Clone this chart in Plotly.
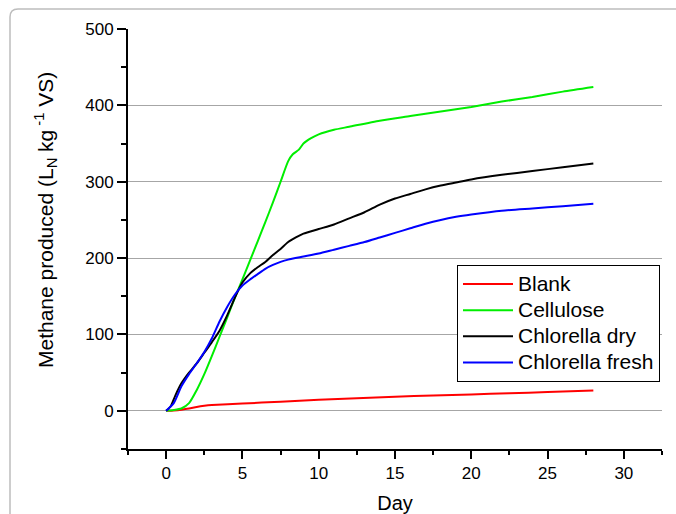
import plotly.graph_objects as go

# ---- data ----
blank_day = [0, 0.5, 1, 1.5, 2, 2.5, 3, 5, 7.5, 10, 12.5, 15, 17.5, 20, 22.5, 25, 28]
blank_val = [0, 0.5, 1.5, 3, 5, 6.5, 7.5, 9.5, 12, 14.5, 16.5, 18.5, 20, 21.5, 23, 24.5, 26.5]

cell_day = [0, 0.5, 1, 1.5, 2, 2.5, 3, 3.5, 4, 4.5, 5, 5.5, 6, 6.5, 7, 7.5, 8, 8.3, 8.7, 9,
            9.5, 10, 11, 12, 14, 16, 18, 20, 22, 24, 26, 28]
cell_val = [0, 1, 3, 10, 27, 48, 72, 97, 122, 148, 172, 197, 222, 247, 273, 300, 327, 336, 342, 350,
            357, 362, 368, 372, 380, 386, 392, 398, 405, 411, 418, 424]

dry_day = [0, 0.3, 0.6, 1, 1.5, 2, 2.5, 3, 3.5, 4, 4.5, 5, 5.5, 6, 6.5, 7, 7.5, 8, 8.5, 9,
           10, 11, 12, 13, 14, 15, 16, 17, 18, 19, 20, 22, 24, 26, 28]
dry_val = [0, 6, 20, 36, 50, 62, 76, 90, 105, 125, 148, 168, 180, 188, 195, 204, 212, 221, 227, 232,
           238, 244, 252, 260, 270, 278, 284, 290, 295, 299, 303, 309, 314, 319, 324]

fresh_day = [0, 0.5, 1, 1.5, 2, 2.5, 3, 3.5, 4, 4.5, 5, 5.5, 6, 6.5, 7, 7.5, 8, 9, 10, 11, 12,
             13, 14, 15, 16, 17, 18, 19, 20, 22, 24, 26, 28]
fresh_val = [0, 10, 32, 48, 62, 77, 95, 117, 136, 152, 164, 172, 179, 186, 191, 195, 198, 202, 206, 211, 216,
             221, 227, 233, 239, 245, 250, 254, 257, 262, 265, 268, 271]

series_names = ["Blank", "Cellulose", "Chlorella dry", "Chlorella fresh"]
series_colors = ["#ff0000", "#00ee00", "#000000", "#0000ff"]

x_ticks = [0, 5, 10, 15, 20, 25, 30]
y_ticks = [0, 100, 200, 300, 400, 500]

x_title = "Day"
y_title = "Methane produced (L<sub>N</sub> kg<sup> -1</sup> VS)"

FONT = "Arial, Liberation Sans, sans-serif"

fig = go.Figure()
for name, color, xs, ys in zip(series_names, series_colors,
                               [blank_day, cell_day, dry_day, fresh_day],
                               [blank_val, cell_val, dry_val, fresh_val]):
    fig.add_trace(go.Scatter(x=xs, y=ys, mode="lines",
                             name=f'<span style="font-size:21px">{name}</span>',
                             line=dict(color=color, width=2, shape="spline", smoothing=0.6)))

W, H = 676, 514
L, R, T, B = 128, 14, 29, 65
pw, ph = W - L - R, H - T - B

def px(xp):
    return (xp - L) / pw

def py(yp):
    return (H - B - yp) / ph

# rounded outer frame (partially cropped at right/bottom)
x0, y0 = px(10), py(9)
x1, y1 = px(690), py(530)
rx, ry = 8 / pw, 8 / ph
frame_path = (f"M{x0},{y1} L{x0},{y0 - ry} Q{x0},{y0} {x0 + rx},{y0} "
              f"L{x1},{y0}")

fig.update_layout(
    width=W, height=H,
    margin=dict(l=L, r=R, t=T, b=B),
    paper_bgcolor="white", plot_bgcolor="white",
    font=dict(family=FONT, size=17, color="black"),
    showlegend=True,
    legend=dict(x=px(457), y=py(265), xanchor="left", yanchor="top",
                bordercolor="black", borderwidth=1, bgcolor="white",
                font=dict(size=17.8, family=FONT), itemwidth=50,
                tracegroupgap=0),
    xaxis=dict(range=[-2.5, 32.5], tickmode="array", tickvals=x_ticks,
               ticks="outside", ticklen=8, tickwidth=1.5, tickcolor="black",
               showline=True, linewidth=2, linecolor="black",
               showgrid=False, zeroline=False, automargin=False,
               minor=dict(dtick=2.5, tick0=0, ticks="outside", ticklen=4,
                          tickwidth=1.5, tickcolor="black", showgrid=False),
               title=dict(text=x_title, font=dict(size=20), standoff=14),
               tickfont=dict(size=17)),
    yaxis=dict(range=[-50, 500], tickmode="array", tickvals=y_ticks,
               ticks="outside", ticklen=9, tickwidth=1.5, tickcolor="black",
               showline=True, linewidth=2, linecolor="black",
               showgrid=True, gridcolor="#a6a6a6", gridwidth=1, zeroline=False,
               automargin=False,
               minor=dict(dtick=50, tick0=0, ticks="outside", ticklen=5,
                          tickwidth=1.5, tickcolor="black", showgrid=False),
               tickfont=dict(size=17)),
    annotations=[dict(text=y_title, textangle=-90, xref="paper", yref="paper",
                      x=px(45), y=py(220), xanchor="center", yanchor="middle",
                      showarrow=False, font=dict(size=21, family=FONT))],
    shapes=[dict(type="path", xref="paper", yref="paper", path=frame_path,
                 line=dict(color="#bdbdbd", width=1.5), layer="below")],
)

fig.write_html("out.html")
